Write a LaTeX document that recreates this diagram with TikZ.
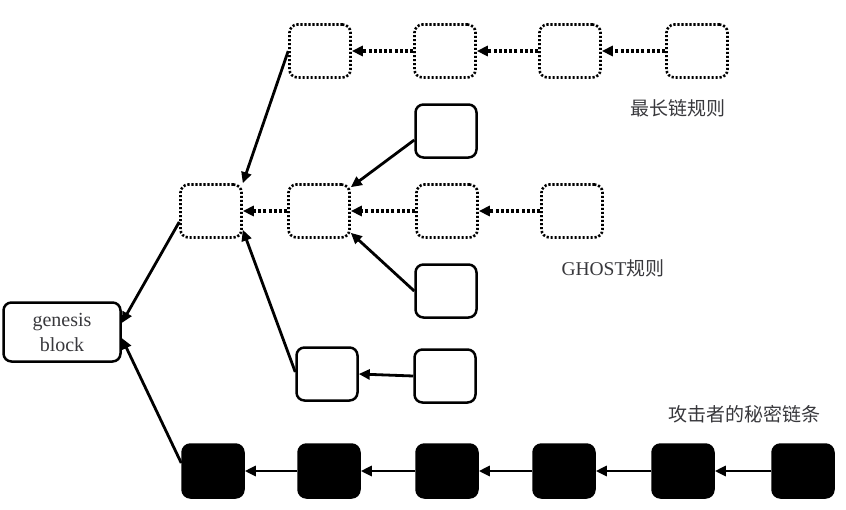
\documentclass[tikz,border=0pt]{standalone}
\usepackage{fontspec}
\setmainfont{Liberation Serif}
\newfontfamily\cjk{Noto Sans CJK SC}
\usetikzlibrary{arrows.meta}
\definecolor{labelgray}{HTML}{38383C}
\begin{document}
\begin{tikzpicture}[x=1pt,y=-1pt,
  blk/.style={draw, line width=2.5pt, rounded corners=8pt, minimum width=61pt,
    minimum height=53pt, inner sep=0pt},
  dotbox/.style={blk, line width=2.6pt, dash pattern=on 2.2pt off 1.8pt},
  darkbox/.style={blk, fill=black},
  link/.style={-{Triangle[length=11pt,width=10pt]}, line width=2.8pt},
  dotlink/.style={link, line width=3.2pt, dash pattern=on 3pt off 2.2pt},
  lbl/.style={text=labelgray, font=\fontsize{19}{24}\selectfont\cjk}
]
\useasboundingbox (0,0) rectangle (846,509);

% genesis block
\node[blk, minimum width=117pt, minimum height=59pt, align=center, text=labelgray,
  font=\fontsize{20}{25}\selectfont] (G) at (62,332) {genesis\\block};

% longest-chain branch
\node[dotbox] (T1) at (320,51) {};
\node[dotbox] (T2) at (445,51) {};
\node[dotbox] (T3) at (570,51) {};
\node[dotbox] (T4) at (697,51) {};

% GHOST branch
\node[dotbox] (M1) at (211,211) {};
\node[dotbox] (M2) at (319,211) {};
\node[dotbox] (M3) at (447,211) {};
\node[dotbox] (M4) at (572,211) {};
\node[blk] (S1) at (446,131) {};
\node[blk] (S2) at (446,291) {};
\node[blk] (B1) at (327,374) {};
\node[blk] (B2) at (445,376) {};

% attacker's secret chain
\node[darkbox] (K1) at (213,471) {};
\node[darkbox] (K2) at (329,471) {};
\node[darkbox] (K3) at (447,471) {};
\node[darkbox] (K4) at (564,471) {};
\node[darkbox] (K5) at (683,471) {};
\node[darkbox] (K6) at (803,471) {};

% labels
\node[lbl] (L1) at (678,108) {最长链规则};
\node[lbl] (L2) at (613,268) {{\fontsize{19.5}{24}\selectfont\rmfamily GHOST}规则};
\node[lbl] (L3) at (744,414) {攻击者的秘密链条};

% connectors
\draw[link] ([yshift=-11pt]M1.west) -- ([yshift=9pt]G.east);
\draw[link] ([yshift=8pt]K1.west) -- ([yshift=-6pt]G.east);

\draw[link] (T1.west) -- (M1.north east);
\draw[dotlink] (T2.west) -- (T1.east);
\draw[dotlink] (T3.west) -- (T2.east);
\draw[dotlink] (T4.west) -- (T3.east);

\draw[dotlink] (M2.west) -- (M1.east);
\draw[dotlink] (M3.west) -- (M2.east);
\draw[dotlink] (M4.west) -- (M3.east);
\draw[link] ([yshift=2pt]B1.west) -- ([yshift=9pt]M1.south east);
\draw[link] ([yshift=-9pt]S1.west) -- ([yshift=-4pt]M2.north east);
\draw[link] (S2.west) -- ([yshift=6pt]M2.south east);
\draw[link] (B2.west) -- (B1.east);

\draw[link] (K2.west) -- (K1.east);
\draw[link] (K3.west) -- (K2.east);
\draw[link] (K4.west) -- (K3.east);
\draw[link] (K5.west) -- (K4.east);
\draw[link] (K6.west) -- (K5.east);
\end{tikzpicture}
\end{document}
